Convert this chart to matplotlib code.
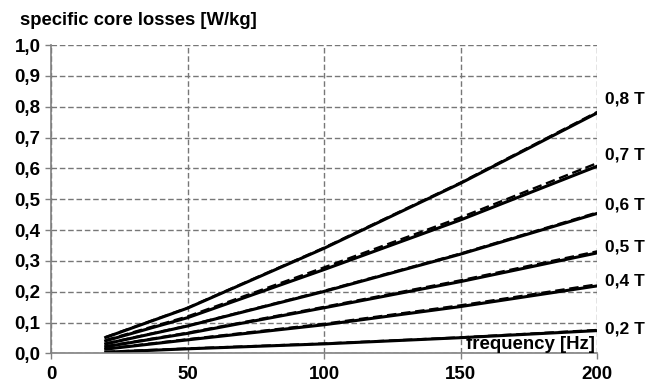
import matplotlib
matplotlib.use("Agg")
import matplotlib.pyplot as plt
from matplotlib.ticker import FuncFormatter

# frequency points [Hz]
freq = [20, 50, 100, 150, 200]

# specific core losses [W/kg], solid = calculated, dashed = measured
labels = ["0,2 T", "0,4 T", "0,5 T", "0,6 T", "0,7 T", "0,8 T"]
solid = [
    [0.004, 0.015, 0.031, 0.051, 0.074],
    [0.014, 0.044, 0.093, 0.152, 0.219],
    [0.022, 0.065, 0.148, 0.233, 0.326],
    [0.031, 0.089, 0.201, 0.322, 0.454],
    [0.041, 0.116, 0.272, 0.433, 0.607],
    [0.052, 0.147, 0.341, 0.552, 0.780],
]
dashed = [
    [0.005, 0.016, 0.032, 0.052, 0.076],
    [0.015, 0.046, 0.096, 0.156, 0.224],
    [0.023, 0.067, 0.151, 0.237, 0.331],
    [0.032, 0.090, 0.203, 0.324, 0.457],
    [0.043, 0.120, 0.279, 0.441, 0.617],
    [0.053, 0.148, 0.343, 0.554, 0.783],
]
label_y = [0.08, 0.235, 0.345, 0.48, 0.645, 0.825]

plt.rcParams['font.family'] = ['Liberation Sans', 'DejaVu Sans']
plt.rcParams['font.weight'] = 'bold'

fig = plt.figure(figsize=(6.47, 3.85), dpi=100)
ax = fig.add_axes([0.079, 0.082, 0.844, 0.801])

for s, d in zip(solid, dashed):
    ax.plot(freq, d, color='black', lw=1.7, ls=(0, (4, 2)))
    ax.plot(freq, s, color='black', lw=2.2)

for lab, ly in zip(labels, label_y):
    ax.text(203, ly, lab, fontsize=12.5, fontweight='bold', ha='left', va='center',
            clip_on=False)

ax.set_xlim(0, 200)
ax.set_ylim(0, 1.0)
ax.set_xticks([0, 50, 100, 150, 200])
ax.set_yticks([i / 10 for i in range(11)])
ax.yaxis.set_major_formatter(FuncFormatter(lambda v, p: f"{v:.1f}".replace('.', ',')))
ax.tick_params(labelsize=13.5, color='gray', length=4, width=1)
ax.tick_params(axis='x', pad=5)
for t in ax.get_xticklabels() + ax.get_yticklabels():
    t.set_fontweight('bold')

ax.grid(True, color='#777777', ls=(0, (4, 2)), lw=1)
for side in ['top', 'right']:
    ax.spines[side].set_visible(False)
for side in ['left', 'bottom']:
    ax.spines[side].set_color('gray')
    ax.spines[side].set_linewidth(1.2)

ax.text(199, 0.003, "frequency [Hz]", fontsize=13.4, fontweight='bold',
        ha='right', va='bottom')
fig.text(0.031, 0.97, "specific core losses [W/kg]", fontsize=13.3,
         fontweight='bold', ha='left', va='top')

fig.savefig("out.png", dpi=100)
